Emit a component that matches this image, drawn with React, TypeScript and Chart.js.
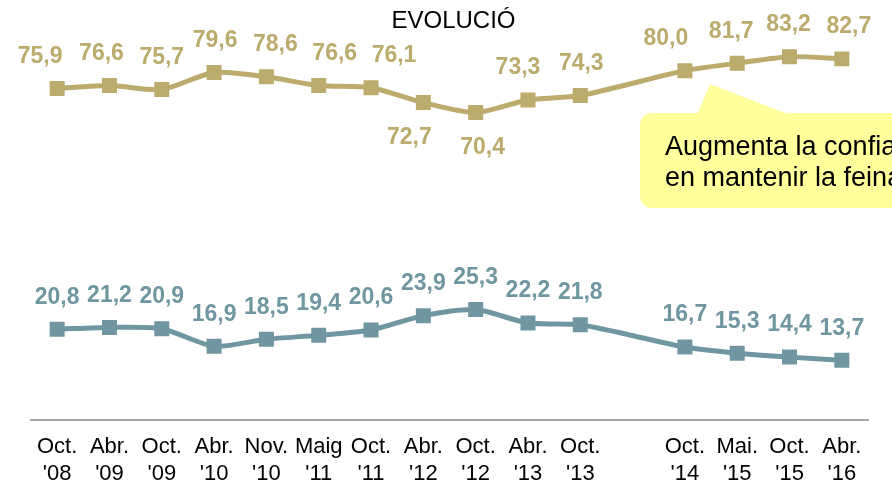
import React, { useEffect, useRef } from "react";
import { Chart, registerables } from "chart.js";

Chart.register(...registerables);

const categories: (string | string[])[] = [
  ["Oct.", "'08"], ["Abr.", "'09"], ["Oct.", "'09"], ["Abr.", "'10"],
  ["Nov.", "'10"], ["Maig", "'11"], ["Oct.", "'11"], ["Abr.", "'12"],
  ["Oct.", "'12"], ["Abr.", "'13"], ["Oct.", "'13"], "",
  ["Oct.", "'14"], ["Mai.", "'15"], ["Oct.", "'15"], ["Abr.", "'16"],
];

const confidence: (number | null)[] = [
  75.9, 76.6, 75.7, 79.6, 78.6, 76.6, 76.1, 72.7, 70.4, 73.3, 74.3, null,
  80.0, 81.7, 83.2, 82.7,
];

const worry: (number | null)[] = [
  20.8, 21.2, 20.9, 16.9, 18.5, 19.4, 20.6, 23.9, 25.3, 22.2, 21.8, null,
  16.7, 15.3, 14.4, 13.7,
];

// indices of the first series whose value label sits below the point
const confidenceLabelsBelow: number[] = [7, 8];
// small horizontal nudges of the first series' value labels (as in the original)
const confidenceLabelNudge: number[] = [
  -17, -8, 0, 1, 9, 16, 23, -14, 7, -10, 1, 0, -19, -6, -1, 7,
];

const titleText = "EVOLUCIÓ";
const calloutLines: string[] = ["Augmenta la confiança", "en mantenir la feina"];

const GOLD = "#BBAB6C";
const BLUE = "#7097A1";
const FONT = "'Liberation Sans', Arial, sans-serif";

const fmt = (v: number) => v.toFixed(1).replace(".", ",");

const labelPlugin = {
  id: "valueLabels",
  afterDatasetsDraw(chart: any) {
    const ctx = chart.ctx;
    ctx.save();
    ctx.font = `bold 23px ${FONT}`;
    ctx.textAlign = "center";
    ctx.textBaseline = "middle";
    chart.data.datasets.forEach((ds: any, di: number) => {
      const meta = chart.getDatasetMeta(di);
      ctx.fillStyle = ds.borderColor;
      meta.data.forEach((pt: any, i: number) => {
        const v = ds.data[i];
        if (v == null) return;
        const below = di === 0 && confidenceLabelsBelow.includes(i);
        const dx = di === 0 ? confidenceLabelNudge[i] : 0;
        ctx.fillText(fmt(v), pt.x + dx, pt.y + (below ? 35 : -32));
      });
    });
    ctx.restore();
  },
};

const decorPlugin = {
  id: "decor",
  afterDraw(chart: any) {
    const ctx = chart.ctx;
    const { left, right } = chart.chartArea;
    ctx.save();
    // title
    ctx.fillStyle = "#000";
    ctx.font = `24px ${FONT}`;
    ctx.textAlign = "center";
    ctx.textBaseline = "alphabetic";
    ctx.fillText(titleText, (left + right) / 2 + 4, 28);

    // callout
    const bx = 640, by = 113, bw = 300, bh = 95, r = 12;
    ctx.fillStyle = "#FFFF9C";
    ctx.beginPath();
    ctx.moveTo(bx + r, by);
    ctx.lineTo(698, by);
    ctx.lineTo(710, 84);
    ctx.lineTo(785, by);
    ctx.lineTo(bx + bw - r, by);
    ctx.arcTo(bx + bw, by, bx + bw, by + r, r);
    ctx.lineTo(bx + bw, by + bh - r);
    ctx.arcTo(bx + bw, by + bh, bx + bw - r, by + bh, r);
    ctx.lineTo(bx + r, by + bh);
    ctx.arcTo(bx, by + bh, bx, by + bh - r, r);
    ctx.lineTo(bx, by + r);
    ctx.arcTo(bx, by, bx + r, by, r);
    ctx.closePath();
    ctx.fill();

    ctx.fillStyle = "#000";
    ctx.font = `27px ${FONT}`;
    ctx.textAlign = "left";
    calloutLines.forEach((t, i) => ctx.fillText(t, 665, 155 + i * 31));
    ctx.restore();
  },
};

export default function App() {
  const ref = useRef<HTMLCanvasElement>(null);
  useEffect(() => {
    document.body.style.margin = "0";
    const chart = new Chart(ref.current!, {
      type: "line",
      data: {
        labels: categories,
        datasets: [
          {
            data: confidence,
            borderColor: GOLD,
            backgroundColor: GOLD,
            borderWidth: 5,
            pointStyle: "rect",
            pointRadius: 10.6,
            pointBorderWidth: 0,
            tension: 0.25,
            spanGaps: true,
          },
          {
            data: worry,
            borderColor: BLUE,
            backgroundColor: BLUE,
            borderWidth: 5,
            pointStyle: "rect",
            pointRadius: 10.6,
            pointBorderWidth: 0,
            tension: 0.25,
            spanGaps: true,
          },
        ],
      },
      options: {
        responsive: false,
        animation: false,
        layout: { padding: { left: 31, right: 24, top: 27, bottom: 0 } },
        plugins: {
          legend: { display: false },
          title: { display: false },
          tooltip: { enabled: false },
        },
        scales: {
          x: {
            offset: true,
            grid: { display: false, drawTicks: false },
            border: { display: true, color: "#A6A6A6", width: 2 },
            afterFit: (scale: any) => {
              scale.height = 65;
            },
            ticks: {
              autoSkip: false,
              maxRotation: 0,
              minRotation: 0,
              padding: 14,
              color: "#000",
              font: { family: FONT, size: 22, lineHeight: 1.2 },
            },
          },
          y: {
            display: false,
            min: 0,
            max: 90,
          },
        },
      },
      plugins: [labelPlugin, decorPlugin],
    });
    return () => chart.destroy();
  }, []);
  return (
    <div style={{ width: 892, height: 485 }}>
      <canvas ref={ref} width={892} height={485} />
    </div>
  );
}
